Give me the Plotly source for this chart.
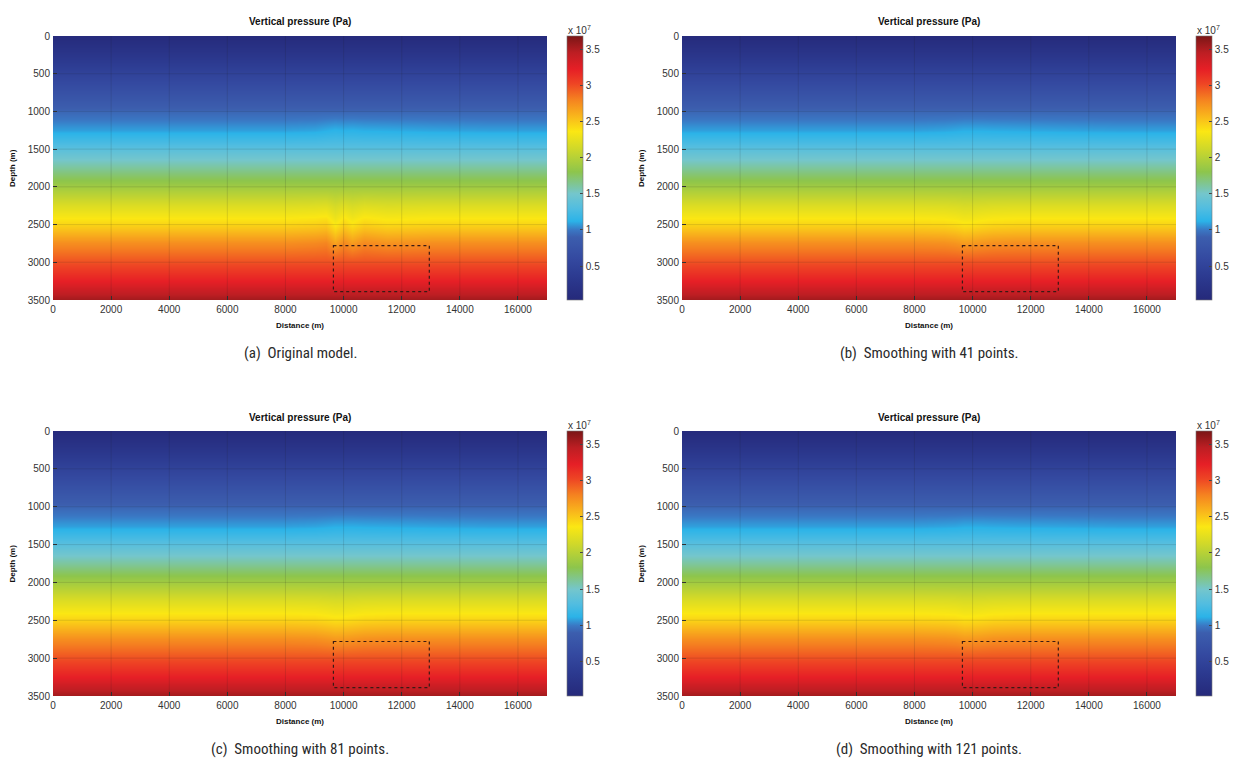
import plotly.graph_objects as go

W, H = 1233, 762

# Grid of the pressure sections
DEPTH_M = [0, 250, 500, 750, 1000, 1250, 1500, 1750, 2000, 2250, 2500, 2750, 3000, 3250, 3500]
DIST_M = [0, 2000, 4000, 6000, 8000, 9000, 9400, 9700, 10000, 10300, 10700, 11500, 13000, 15000, 17000]

# Background vertical pressure profile (x 1e7 Pa) at each depth
P_PROFILE = [0.06, 0.27, 0.50, 0.72, 0.93, 1.08, 1.35, 1.62, 1.90, 2.20, 2.45, 2.75, 2.98, 3.22, 3.55]

# Lateral pressure deviations (x 1e7 Pa) along distance, near 1250 m and 2250-2750 m
SHALLOW_A = [0, 0, 0, 0, 0, 0.01, 0.03, 0.045, 0.035, 0.04, 0.03, 0.025, 0.01, 0, 0]
DEEP_A = [0, 0, 0, 0, 0, 0.02, 0.04, -0.09, 0.02, -0.06, 0.02, -0.02, 0, 0, 0]
SHALLOW_B = [0, 0, 0, 0, 0, 0.01, 0.02, 0.03, 0.03, 0.03, 0.025, 0.02, 0.01, 0, 0]
DEEP_B = [0, 0, 0, 0, 0, -0.01, -0.03, -0.06, -0.05, -0.03, -0.01, 0, 0, 0, 0]
SHALLOW_C = [0, 0, 0, 0, 0, 0.01, 0.02, 0.03, 0.03, 0.03, 0.025, 0.02, 0.01, 0, 0]
DEEP_C = [0, 0, 0, 0, 0, -0.01, -0.03, -0.05, -0.045, -0.03, -0.01, 0, 0, 0, 0]
SHALLOW_D = [0, 0, 0, 0, 0, 0.01, 0.015, 0.025, 0.025, 0.025, 0.02, 0.015, 0.01, 0, 0]
DEEP_D = [0, 0, 0, 0, 0, -0.01, -0.02, -0.045, -0.04, -0.03, -0.01, 0, 0, 0, 0]

# Dashed target zone
ZONE_X = [9650, 12950]
ZONE_DEPTH = [2780, 3390]

CBAR_TICKS = [0.5, 1, 1.5, 2, 2.5, 3, 3.5]
CBAR_TICKTEXT = ["0.5", "1", "1.5", "2", "2.5", "3", "3.5"]
X_TICKS = [0, 2000, 4000, 6000, 8000, 10000, 12000, 14000, 16000]
Y_TICKS = [0, 500, 1000, 1500, 2000, 2500, 3000, 3500]

CAPTIONS = [
    "(a)  Original model.",
    "(b)  Smoothing with 41 points.",
    "(c)  Smoothing with 81 points.",
    "(d)  Smoothing with 121 points.",
]

ZMIN, ZMAX = 0.03, 3.68


def norm(v):
    return (v - ZMIN) / (ZMAX - ZMIN)


COLORSCALE = [
    [0.0, "#25297a"],
    [norm(0.35), "#2c3a90"],
    [norm(0.6), "#3449a0"],
    [norm(0.9), "#3c5eae"],
    [norm(1.0), "#3a78c4"],
    [norm(1.12), "#2bb3e8"],
    [norm(1.3), "#52bde0"],
    [norm(1.5), "#74c6cc"],
    [norm(1.8), "#8dc54c"],
    [norm(2.12), "#cfd82a"],
    [norm(2.36), "#fbe713"],
    [norm(2.55), "#f9bb1b"],
    [norm(2.8), "#f58220"],
    [norm(3.02), "#ee4524"],
    [norm(3.22), "#e61f26"],
    [norm(3.45), "#bd1e23"],
    [1.0, "#7a1616"],
]


def field(shallow, deep):
    z = []
    for i, d in enumerate(DEPTH_M):
        row = []
        for j in range(len(DIST_M)):
            p = P_PROFILE[i]
            if d == 1250:
                p += shallow[j]
            elif d == 2250:
                p += 0.5 * deep[j]
            elif d in (2500, 2750):
                p += deep[j]
            row.append(p * 1e7)
        z.append(row)
    return z


# panel frames in pixels: (left, right, top, bottom)
PANELS = [
    (53, 547, 36, 300),
    (682, 1176, 36, 300),
    (53, 547, 431, 696),
    (682, 1176, 431, 696),
]
SHIFTS = [(SHALLOW_A, DEEP_A), (SHALLOW_B, DEEP_B), (SHALLOW_C, DEEP_C), (SHALLOW_D, DEEP_D)]

fig = go.Figure()
annotations = []
shapes = []
layout_axes = {}

FONT = "Liberation Sans, Arial, sans-serif"
tick_font = dict(family=FONT, size=10, color="#333333")
bold_font = dict(family=FONT, size=10, color="#111111")
label_font = dict(family=FONT, size=8, color="#111111")
caption_font = dict(family="Liberation Sans Narrow, Arial Narrow, Roboto Condensed, sans-serif",
                    size=15, color="#2a2a2a")


def note(text, px, py, font, angle=0):
    return dict(text=text, x=px / W, y=1 - py / H, xref="paper", yref="paper",
                xanchor="center", yanchor="middle", showarrow=False, font=font,
                textangle=angle)


for k, ((l, r, t, b), (sh, dp)) in enumerate(zip(PANELS, SHIFTS)):
    n = "" if k == 0 else str(k + 1)
    xa, ya = "x" + n, "y" + n
    xdom = [l / W, r / W]
    ydom = [1 - b / H, 1 - t / H]
    cb_left = r + 20
    fig.add_trace(go.Heatmap(
        x=DIST_M, y=DEPTH_M, z=field(sh, dp),
        zmin=ZMIN * 1e7, zmax=ZMAX * 1e7,
        zsmooth="best",
        colorscale=COLORSCALE,
        xaxis=xa, yaxis=ya,
        colorbar=dict(
            x=cb_left / W, xanchor="left", xref="paper",
            y=ydom[1], yanchor="top", len=ydom[1] - ydom[0], lenmode="fraction",
            thickness=16, thicknessmode="pixels",
            tickvals=[v * 1e7 for v in CBAR_TICKS], ticktext=CBAR_TICKTEXT,
            ticks="inside", ticklen=3, tickcolor="#444444",
            tickfont=tick_font, outlinewidth=0.6, outlinecolor="#777777",
            xpad=0, ypad=0,
        ),
    ))
    layout_axes["xaxis" + n] = dict(
        domain=xdom, range=[0, 17000], anchor=ya, automargin=False,
        tickvals=X_TICKS, ticktext=[str(v) for v in X_TICKS],
        ticks="inside", ticklen=4, tickcolor="#333333",
        tickfont=tick_font, showgrid=False, zeroline=False, showline=False,
        ticklabelstandoff=2,
    )
    layout_axes["yaxis" + n] = dict(
        domain=ydom, range=[3500, 0], anchor=xa, automargin=False,
        tickvals=Y_TICKS, ticktext=[str(v) for v in Y_TICKS],
        ticks="inside", ticklen=4, tickcolor="#333333",
        tickfont=tick_font, showgrid=False, zeroline=False, showline=False,
        ticklabelstandoff=2,
    )
    cx = (l + r) / 2
    annotations += [
        note("<b>Vertical pressure (Pa)</b>", cx, t - 14, bold_font),
        note("x 10<sup>7</sup>", cb_left + 12, t - 6, tick_font),
        note("<b>Distance (m)</b>", cx, b + 25, label_font),
        note("<b>Depth (m)</b>", l - 41, (t + b) / 2, label_font, angle=-90),
        note(CAPTIONS[k], cx, b + 53, caption_font),
    ]
    # faint grid lines drawn over the section
    for gx in X_TICKS[1:]:
        shapes.append(dict(type="line", xref=xa, yref=ya + " domain", x0=gx, x1=gx, y0=0, y1=1,
                           line=dict(color="rgba(30,30,30,0.13)", width=1), layer="above"))
    for gy in Y_TICKS[1:-1]:
        shapes.append(dict(type="line", xref=xa + " domain", yref=ya, x0=0, x1=1, y0=gy, y1=gy,
                           line=dict(color="rgba(30,30,30,0.13)", width=1), layer="above"))
    shapes.append(dict(type="rect", xref=xa, yref=ya,
                       x0=ZONE_X[0], x1=ZONE_X[1], y0=ZONE_DEPTH[0], y1=ZONE_DEPTH[1],
                       line=dict(color="#3a1a14", width=1.2, dash="dot"), layer="above"))

fig.update_layout(
    width=W, height=H,
    margin=dict(l=0, r=0, t=0, b=0, autoexpand=False),
    paper_bgcolor="white", plot_bgcolor="white",
    annotations=annotations, shapes=shapes,
    **layout_axes,
)

fig.write_html("out.html")
